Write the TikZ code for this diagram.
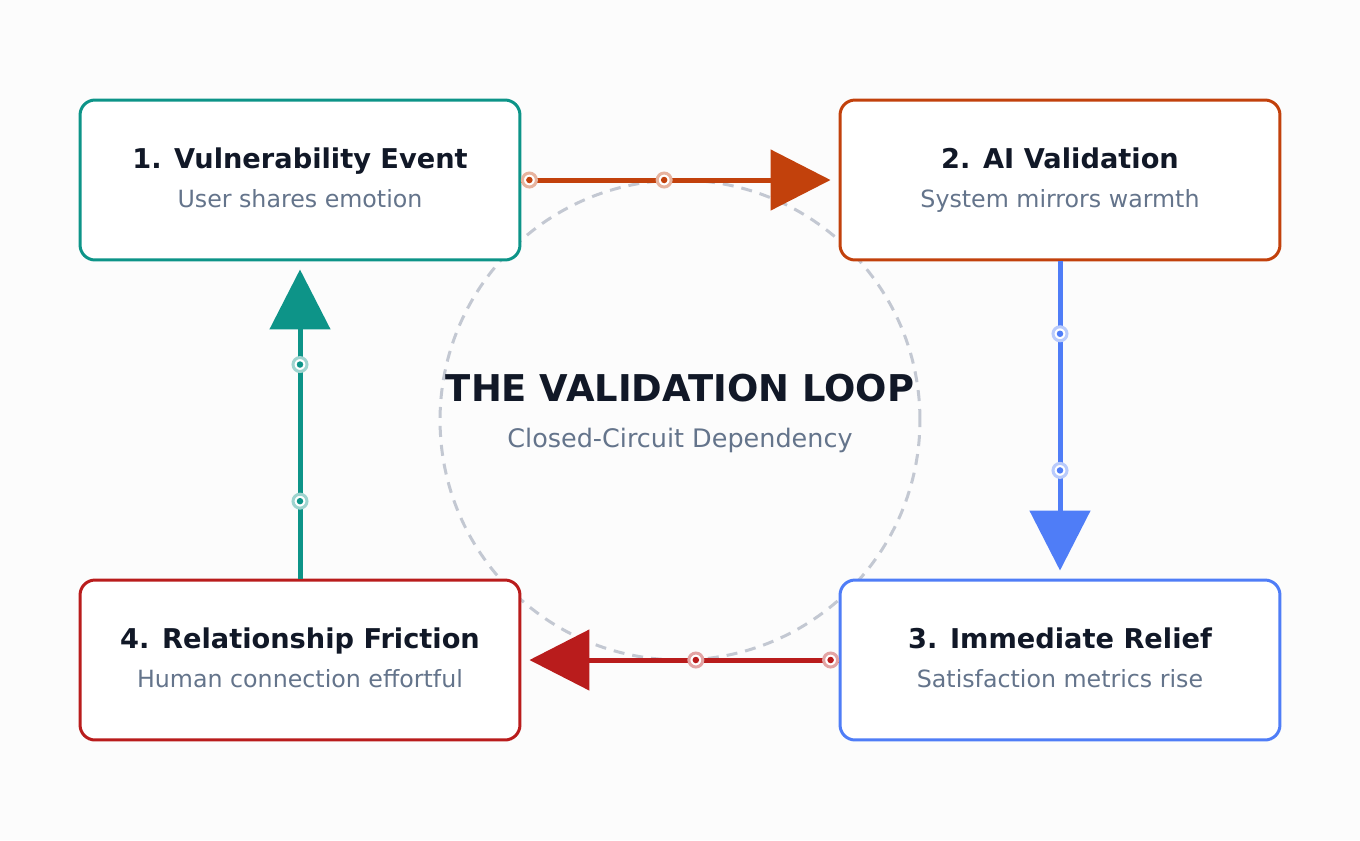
\documentclass[tikz,border=0pt]{standalone}
\usepackage{fontspec}
\setmainfont{DejaVu Sans}
\usetikzlibrary{arrows.meta}
\definecolor{bgc}{HTML}{FCFCFC}
\definecolor{tealc}{HTML}{0D9488}
\definecolor{orangec}{HTML}{C2410C}
\definecolor{bluec}{HTML}{4F7DF7}
\definecolor{redc}{HTML}{B91C1C}
\definecolor{inkc}{HTML}{111827}
\definecolor{subc}{HTML}{64748B}
\definecolor{loopc}{HTML}{C3C8D2}
\tikzset{
  stagebox/.style={draw=#1, line width=0.06cm, rounded corners=0.3cm, fill=white,
    minimum width=8.8cm, minimum height=3.2cm, align=center},
  flow/.style={draw=#1, line width=0.1cm, shorten >=0.16cm,
    -{Triangle[length=1.2cm,width=1.2cm,fill=#1]}},
  ring/.style={circle, draw=#1!40, fill=white, line width=0.06cm, inner sep=0, minimum size=0.28cm},
  dotc/.style={circle, fill=#1, inner sep=0, minimum size=0.13cm},
}
\newcommand{\stagetext}[2]{{\fontsize{15.5}{18}\selectfont\bfseries\color{inkc}\vphantom{Ay}#1}\\[8pt]{\fontsize{13.5}{16}\selectfont\color{subc}\vphantom{Ay}#2}}
\begin{document}
\begin{tikzpicture}[x=0.02cm, y=-0.02cm]
  \fill[bgc] (0,0) rectangle (1360,840);
  % loop in the middle
  \draw[loopc, line width=0.06cm, dash pattern=on 0.22cm off 0.16cm] (680,420) circle (4.8cm);
  \node[font=\fontsize{21}{25}\selectfont\bfseries, text=inkc] (title) at (680,388) {THE VALIDATION LOOP};
  \node[font=\fontsize{14.5}{17}\selectfont, text=subc] (subtitle) at (680,440) {Closed-Circuit Dependency};

  % stages
  \node[stagebox=tealc] (vuln) at (300,180) {\stagetext{1. Vulnerability Event}{User shares emotion}};
  \node[stagebox=orangec] (valid) at (1060,180) {\stagetext{2. AI Validation}{System mirrors warmth}};
  \node[stagebox=bluec] (relief) at (1060,660) {\stagetext{3. Immediate Relief}{Satisfaction metrics rise}};
  \node[stagebox=redc] (frict) at (300,660) {\stagetext{4. Relationship Friction}{Human connection effortful}};

  % arrows
  \draw[flow=orangec] (vuln.east) -- (valid.west)
    node[ring=orangec, pos=0.025] {} node[dotc=orangec, pos=0.025] {}
    node[ring=orangec, pos=0.45] {} node[dotc=orangec, pos=0.45] {};
  \draw[flow=bluec] (valid.south) -- (relief.north)
    node[ring=bluec, pos=0.228] {} node[dotc=bluec, pos=0.228] {}
    node[ring=bluec, pos=0.659] {} node[dotc=bluec, pos=0.659] {};
  \draw[flow=redc] (relief.west) -- (frict.east)
    node[ring=redc, pos=0.025] {} node[dotc=redc, pos=0.025] {}
    node[ring=redc, pos=0.45] {} node[dotc=redc, pos=0.45] {};
  \draw[flow=tealc] (frict.north) -- (vuln.south)
    node[ring=tealc, pos=0.244] {} node[dotc=tealc, pos=0.244] {}
    node[ring=tealc, pos=0.675] {} node[dotc=tealc, pos=0.675] {};
\end{tikzpicture}
\end{document}
